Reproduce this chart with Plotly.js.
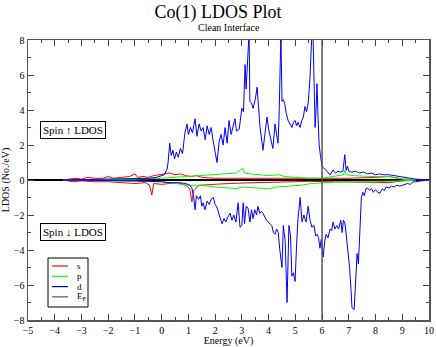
<!DOCTYPE html>
<html>
<head>
<meta charset="utf-8">
<script src="https://cdn.plot.ly/plotly-3.0.1.min.js"></script>
<style>
  html, body { margin: 0; padding: 0; background: #fff; }
  #chart { width: 436px; height: 347px; }
</style>
</head>
<body>
<div id="chart"></div>
<script>
// d states, spin up
var dUpX = [-3.7, -3, -2, -1.5, -1, -0.5, -0.2, 0, 0.1, 0.2, 0.24, 0.3, 0.36, 0.42, 0.48, 0.55, 0.62, 0.7, 0.78, 0.87, 0.95, 1.0, 1.08, 1.15, 1.25, 1.32, 1.4, 1.48, 1.55, 1.63, 1.7, 1.78, 1.85, 1.93, 2.0, 2.07, 2.15, 2.22, 2.3, 2.37, 2.45, 2.52, 2.6, 2.67, 2.74, 2.8, 2.9, 3.0, 3.06, 3.12, 3.16, 3.22, 3.27, 3.3, 3.36, 3.42, 3.5, 3.57, 3.62, 3.68, 3.75, 3.79, 3.86, 3.94, 4.0, 4.05, 4.1, 4.16, 4.24, 4.3, 4.35, 4.39, 4.43, 4.46, 4.5, 4.54, 4.6, 4.66, 4.73, 4.8, 4.87, 4.93, 4.99, 5.05, 5.1, 5.18, 5.24, 5.3, 5.36, 5.42, 5.48, 5.54, 5.58, 5.62, 5.66, 5.7, 5.74, 5.78, 5.81, 5.85, 5.89, 5.94, 6.0, 6.06, 6.12, 6.2, 6.3, 6.41, 6.5, 6.6, 6.7, 6.78, 6.85, 6.9, 6.95, 7.0, 7.1, 7.25, 7.4, 7.55, 7.7, 7.85, 8.0, 8.15, 8.3, 8.5, 8.7, 8.9, 9.1, 9.3, 9.5, 9.8, 10];
var dUpY = [0, 0.02, 0.03, 0.05, 0.08, 0.1, 0.15, 0.25, 0.3, 0.6, 1.0, 2.1, 1.4, 1.7, 1.2, 1.6, 1.3, 1.8, 1.5, 2.7, 3.2, 2.6, 3.0, 2.7, 3.5, 2.5, 3.2, 2.8, 3.0, 2.3, 3.1, 2.6, 3.0, 2.2, 1.6, 1.0, 2.2, 2.6, 2.0, 3.0, 2.1, 3.4, 2.6, 3.0, 3.5, 2.8, 2.9, 4.1, 3.9, 6.6, 5.2, 7.0, 8.4, 4.5, 4.4, 4.1, 4.6, 5.3, 4.2, 3.0, 2.2, 1.7, 2.6, 3.6, 2.9, 2.5, 2.2, 1.8, 3.2, 2.7, 2.1, 3.5, 6.0, 8.4, 4.5, 4.6, 4.4, 3.8, 3.4, 3.2, 3.0, 3.3, 3.4, 3.1, 3.3, 3.0, 3.4, 3.6, 4.2, 3.9, 4.4, 5.6, 7.0, 8.4, 8.4, 5.2, 3.0, 4.2, 5.5, 3.6, 2.0, 1.4, 0.75, 0.7, 0.6, 0.5, 0.3, 0.57, 0.4, 0.5, 0.45, 0.5, 1.45, 0.55, 0.8, 0.5, 0.45, 0.5, 0.4, 0.45, 0.35, 0.4, 0.3, 0.35, 0.3, 0.3, 0.25, 0.2, 0.15, 0.1, 0.05, 0.02, 0];

// d states, spin down
var dDnX = [-3.7, -2, -1, 0, 0.3, 0.6, 0.9, 1.05, 1.13, 1.2, 1.25, 1.3, 1.38, 1.45, 1.5, 1.55, 1.62, 1.7, 1.78, 1.85, 1.93, 2.0, 2.08, 2.15, 2.22, 2.26, 2.33, 2.4, 2.48, 2.56, 2.63, 2.7, 2.78, 2.86, 2.93, 3.0, 3.05, 3.1, 3.16, 3.23, 3.3, 3.36, 3.42, 3.48, 3.55, 3.6, 3.67, 3.73, 3.79, 3.85, 3.92, 3.98, 4.05, 4.12, 4.18, 4.24, 4.3, 4.36, 4.42, 4.5, 4.55, 4.62, 4.69, 4.76, 4.82, 4.87, 4.93, 4.99, 5.05, 5.1, 5.18, 5.25, 5.32, 5.4, 5.48, 5.55, 5.62, 5.7, 5.76, 5.81, 5.87, 5.92, 5.97, 6.04, 6.1, 6.15, 6.22, 6.3, 6.36, 6.41, 6.48, 6.55, 6.62, 6.7, 6.75, 6.8, 6.86, 6.92, 6.97, 7.03, 7.08, 7.12, 7.2, 7.25, 7.31, 7.36, 7.42, 7.47, 7.52, 7.58, 7.64, 7.7, 7.78, 7.85, 7.92, 8.0, 8.08, 8.17, 8.25, 8.33, 8.4, 8.5, 8.6, 8.7, 8.8, 8.9, 9.0, 9.1, 9.2, 9.3, 9.4, 9.5, 9.7, 10];
var dDnY = [0, -0.02, -0.05, -0.1, -0.15, -0.15, -0.2, -0.3, -0.45, -1.0, -1.7, -0.9, -1.1, -0.9, -1.5, -1.3, -1.7, -1.2, -1.4, -1.1, -1.0, -1.4, -1.6, -2.0, -2.3, -2.5, -2.2, -2.4, -2.1, -1.9, -2.3, -2.0, -2.4, -1.3, -2.7, -2.6, -1.3, -2.5, -1.5, -1.6, -2.4, -1.7, -2.2, -1.7, -2.0, -1.5, -1.9, -1.8, -1.9, -2.1, -2.3, -2.4, -2.5, -2.6, -3.0, -3.1, -2.8, -3.0, -4.0, -5.0, -2.6, -3.5, -7.0, -2.6, -3.2, -5.5, -5.3, -5.8, -3.6, -2.2, -1.0, -2.4, -2.0, -2.4, -1.5, -2.3, -2.7, -2.6, -3.2, -3.1, -3.3, -3.9, -3.4, -4.4, -3.5, -3.1, -3.3, -2.8, -2.9, -2.4, -2.8, -2.6, -2.8, -2.3, -3.0, -2.3, -2.5, -3.4, -3.9, -5.0, -6.2, -7.3, -7.4, -6.0, -4.2, -4.8, -2.5, -1.0, -0.7, -0.9, -0.5, -0.45, -0.6, -0.5, -0.7, -0.55, -0.7, -0.75, -0.5, -0.6, -0.4, -0.45, -0.35, -0.4, -0.3, -0.35, -0.3, -0.25, -0.2, -0.25, -0.1, -0.1, -0.05, -0.02];

// s states
var sUpX = [-3.7, -3.5, -3.2, -3.0, -2.8, -2.5, -2.2, -2.0, -1.8, -1.5, -1.2, -1.0, -0.9, -0.7, -0.5, -0.3, -0.1, 0.1, 0.3, 0.5, 0.7, 0.9, 1.1, 1.3, 1.5, 2.0, 3.0, 4.0, 5.0, 6.0, 7.0, 8.0, 8.5, 9.0, 9.5];
var sUpY = [0, 0.05, 0.1, 0.05, 0.15, 0.1, 0.1, 0.2, 0.1, 0.15, 0.2, 0.35, 0.15, 0.2, 0.15, 0.25, 0.3, 0.35, 0.4, 0.3, 0.35, 0.25, 0.2, 0.25, 0.15, 0.1, 0.1, 0.1, 0.08, 0.08, 0.1, 0.15, 0.2, 0.05, 0.02];
var sDnX = [-3.7, -3.3, -3.0, -2.5, -2.0, -1.5, -1.0, -0.6, -0.45, -0.37, -0.3, 0, 0.3, 0.6, 0.9, 1.05, 1.13, 1.2, 1.4, 1.8, 2.5, 3.5, 4.5, 5.5, 6.5, 7.5, 8.5, 9.0, 9.5];
var sDnY = [0, -0.1, -0.05, -0.1, -0.1, -0.15, -0.2, -0.15, -0.3, -0.86, -0.2, -0.25, -0.2, -0.15, -0.3, -0.5, -1.25, -0.6, -0.3, -0.25, -0.2, -0.15, -0.1, -0.08, -0.1, -0.12, -0.15, -0.05, -0.02];

// p states
var pUpX = [-3.7, -2, -1, 0, 0.5, 1, 1.5, 2, 2.5, 2.8, 3.04, 3.1, 3.3, 3.6, 4.0, 4.4, 4.6, 5.0, 5.5, 6.0, 6.5, 6.8, 6.85, 6.9, 7.2, 7.8, 8.5, 9.0, 9.5];
var pUpY = [0, 0.02, 0.05, 0.1, 0.15, 0.2, 0.25, 0.3, 0.35, 0.4, 0.67, 0.4, 0.35, 0.3, 0.25, 0.3, 0.2, 0.15, 0.1, 0.1, 0.2, 0.3, 0.55, 0.3, 0.25, 0.2, 0.2, 0.05, 0.02];
var pDnX = [-3.7, -1, 0, 0.5, 1.0, 1.3, 1.5, 2.0, 2.5, 2.8, 3.0, 3.5, 4.0, 4.3, 4.7, 5.2, 5.6, 6.0, 6.5, 7.0, 8.0, 9.0, 9.5];
var pDnY = [0, -0.05, -0.1, -0.2, -0.3, -0.35, -0.3, -0.4, -0.45, -0.5, -0.4, -0.45, -0.5, -0.4, -0.35, -0.3, -0.2, -0.15, -0.12, -0.1, -0.1, -0.05, 0];

// Fermi energy
var fermiX = [6, 6];
var fermiY = [-8, 8];

// legend entries (drawn by hand, Plotly's own legend rows are too tall)
var legendNames = ["s", "p", "d", "E<sub>F</sub>"];
var legendColors = ["#ff0000", "#00ff00", "#0000ff", "#555555"];

var serif = "Liberation Serif, Times New Roman, serif";

function line(x, y, color) {
  return {
    x: x, y: y, type: "scatter", mode: "lines",
    line: {color: color, width: 1},
    showlegend: false, hoverinfo: "skip"
  };
}

var data = [
  line(sUpX, sUpY, legendColors[0]),
  line(sDnX, sDnY, legendColors[0]),
  line(pUpX, pUpY, legendColors[1]),
  line(pDnX, pDnY, legendColors[1]),
  line(dUpX, dUpY, legendColors[2]),
  line(dDnX, dDnY, legendColors[2]),
  line(fermiX, fermiY, legendColors[3])
];
data[6].line.width = 1.5;

// legend box in paper coords; plot area is 401 x 280 px
var W = 401, H = 280;
function px(v) { return (v - 28) / W; }
function py(v) { return (320 - v) / H; }

var shapes = [{
  type: "rect", xref: "paper", yref: "paper",
  x0: px(48), x1: px(88), y0: py(307), y1: py(258),
  line: {color: "#000", width: 1}, fillcolor: "#fff", layer: "above"
}];
var annotations = [
  {xref: "paper", yref: "paper", x: 0.5, y: 1.043, text: "Clean Interface",
   showarrow: false, font: {size: 10}, yanchor: "middle"},
  {xref: "x", yref: "y", x: -4.55, y: 2.86, xanchor: "left", yanchor: "middle",
   text: "Spin \u2191 LDOS", showarrow: false, font: {size: 11},
   bgcolor: "#fff", bordercolor: "#000", borderwidth: 1, borderpad: 2},
  {xref: "x", yref: "y", x: -4.55, y: -2.97, xanchor: "left", yanchor: "middle",
   text: "Spin \u2193 LDOS", showarrow: false, font: {size: 11},
   bgcolor: "#fff", bordercolor: "#000", borderwidth: 1, borderpad: 2}
];
legendNames.forEach(function (name, i) {
  var yy = 266 + i * 10.3;
  shapes.push({
    type: "line", xref: "paper", yref: "paper",
    x0: px(52), x1: px(68), y0: py(yy), y1: py(yy),
    line: {color: legendColors[i], width: 1.2}, layer: "above"
  });
  annotations.push({
    xref: "paper", yref: "paper", x: px(75), y: py(yy), xanchor: "left", yanchor: "middle",
    text: name, showarrow: false, font: {size: 9}
  });
});

var layout = {
  width: 436, height: 347,
  margin: {l: 28, r: 7, t: 40, b: 27},
  paper_bgcolor: "#fff", plot_bgcolor: "#fff",
  font: {family: serif, size: 10, color: "#000"},
  showlegend: false,
  title: {
    text: "Co(1) LDOS Plot",
    font: {family: serif, size: 18},
    x: 0.5, xanchor: "center",
    yref: "container", y: 0.965, yanchor: "middle"
  },
  xaxis: {
    range: [-5, 10], dtick: 1, tick0: -5, automargin: false,
    ticks: "inside", ticklen: 6, tickcolor: "#444",
    mirror: "allticks", showline: true, linecolor: "#555", linewidth: 1.5,
    showgrid: false, zeroline: false,
    minor: {dtick: 0.5, ticks: "inside", ticklen: 3, tickcolor: "#444"},
    tickfont: {size: 10},
    title: {text: "Energy (eV)", font: {size: 10}, standoff: 2}
  },
  yaxis: {
    range: [-8, 8], dtick: 2, tick0: -8, automargin: false,
    ticks: "inside", ticklen: 6, tickcolor: "#444",
    mirror: "allticks", showline: true, linecolor: "#555", linewidth: 1.5,
    showgrid: false, zeroline: true, zerolinecolor: "#000", zerolinewidth: 1.5,
    minor: {dtick: 1, ticks: "inside", ticklen: 3, tickcolor: "#444"},
    tickfont: {size: 10},
    title: {text: "LDOS (No./eV)", font: {size: 10}, standoff: 2}
  },
  shapes: shapes,
  annotations: annotations
};

Plotly.newPlot("chart", data, layout, {displayModeBar: false, staticPlot: true});
</script>
</body>
</html>
